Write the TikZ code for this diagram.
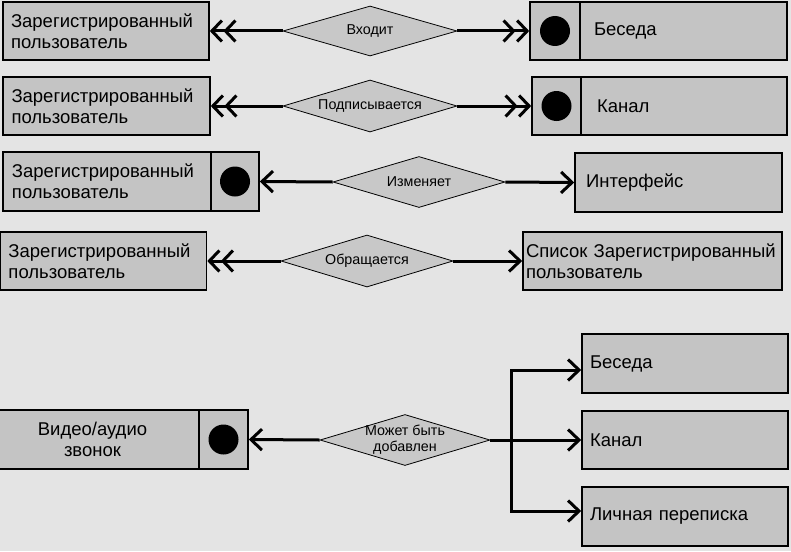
\documentclass[tikz,border=0pt]{standalone}
\usepackage{fontspec}
\setmainfont{Liberation Sans}
\usetikzlibrary{arrows.meta,shapes.geometric}
\definecolor{bgc}{HTML}{E4E4E4}
\definecolor{boxc}{HTML}{C4C4C4}
\definecolor{dmc}{HTML}{C8C8C8}
\tikzset{
  ent/.style={draw=black, line width=1.6pt, fill=boxc, rectangle, inner sep=0pt,
    font=\fontsize{18.5}{21}\selectfont, align=left},
  keyc/.style={draw=black, line width=1.6pt, fill=boxc, rectangle, inner sep=0pt},
  rel/.style={draw=black, line width=0.8pt, fill=dmc, diamond, aspect=3.4, inner sep=0pt,
    font=\fontsize{14.3}{16}\selectfont, align=center},
  rellabel/.style={inner sep=0pt, font=\fontsize{14.3}{16}\selectfont, align=center},
  conn/.style={draw=black, line width=3pt},
  onehead/.style={-{Straight Barb[length=11pt,width=21pt]}},
  twohead/.style={-{Straight Barb[length=10pt,width=21pt]Straight Barb[length=10pt,width=21pt]}},
}
\begin{document}
\begin{tikzpicture}[x=1pt,y=-1pt]
\useasboundingbox (0,0) rectangle (791,551);
\fill[bgc] (0,0) rectangle (791,551);

% Row 1
\node[ent, minimum width=206, minimum height=58, text width=190] (u1) at (106,31) {Зарегистрированный\\пользователь};
\node[rel, minimum width=174, minimum height=50] (d1) at (370,31) {Входит};
\node[keyc, minimum width=50, minimum height=58] (k1) at (555,31) {};
\node[ent, minimum width=207, minimum height=58, text width=179] (e1) at (683.5,31) {Беседа};
\fill (k1.center) circle (15);
\draw[conn, twohead] (d1.west) -- (u1.east);
\draw[conn, twohead] (d1.east) -- (k1.west);

% Row 2
\node[ent, minimum width=207, minimum height=58, text width=190] (u2) at (106.5,106) {Зарегистрированный\\пользователь};
\node[rel, minimum width=174, minimum height=52] (d2) at (370,106) {Подписывается};
\node[keyc, minimum width=49, minimum height=58] (k2) at (556.5,106) {};
\node[ent, minimum width=206, minimum height=58, text width=174] (e2) at (684,106) {Канал};
\fill (k2.center) circle (15);
\draw[conn, twohead] (d2.west) -- (u2.east);
\draw[conn, twohead] (d2.east) -- (k2.west);

% Row 3
\node[ent, minimum width=208, minimum height=59, text width=190] (u3) at (107,181.5) {Зарегистрированный\\пользователь};
\node[keyc, minimum width=48, minimum height=59] (k3) at (235,181.5) {};
\fill (k3.center) circle (15);
\node[rel, minimum width=172, minimum height=51] (d3) at (419,182) {Изменяет};
\node[ent, minimum width=207, minimum height=59, text width=185] (i3) at (678.5,182.5) {Интерфейс};
\draw[conn, onehead] (d3.west) -- (k3.east);
\draw[conn, onehead] (d3.east) -- (i3.west);

% Row 4
\node[ent, minimum width=206, minimum height=58, text width=190] (u4) at (103.5,261) {Зарегистрированный\\пользователь};
\node[rel, minimum width=172, minimum height=52] (d4) at (367,261) {Обращается};
\node[ent, minimum width=259, minimum height=58, text width=253] (s4) at (652.5,261) {Список Зарегистрированный\\пользователь};
\draw[conn, twohead] (d4.west) -- (u4.east);
\draw[conn, onehead] (d4.east) -- (s4.west);

% Row 5
\node[ent, minimum width=213, minimum height=59, text width=213, align=center] (v5) at (92.5,439.5) {Видео/аудио\\звонок};
\node[keyc, minimum width=49, minimum height=59] (k5) at (223.5,439.5) {};
\fill (k5.center) circle (15);
\node[rel, minimum width=170, minimum height=51] (d5) at (405,440) {};
\node[rellabel] (l5) at (d5.center) {Может быть\\добавлен};
\node[ent, minimum width=206, minimum height=59, text width=190] (b1) at (685,363.5) {Беседа};
\node[ent, minimum width=206, minimum height=58, text width=190] (b2) at (685,440) {Канал};
\node[ent, minimum width=206, minimum height=59, text width=190] (b3) at (685,516.5) {Личная переписка};
\coordinate (j) at (511,440);
\draw[conn, onehead] (d5.west) -- (k5.east);
\draw[conn, onehead] (d5.east) -- (b2.west);
\draw[conn, onehead] (j) |- ([yshift=-6.5pt]b1.west);
\draw[conn, onehead] (j) |- ([yshift=5.5pt]b3.west);
\end{tikzpicture}
\end{document}
